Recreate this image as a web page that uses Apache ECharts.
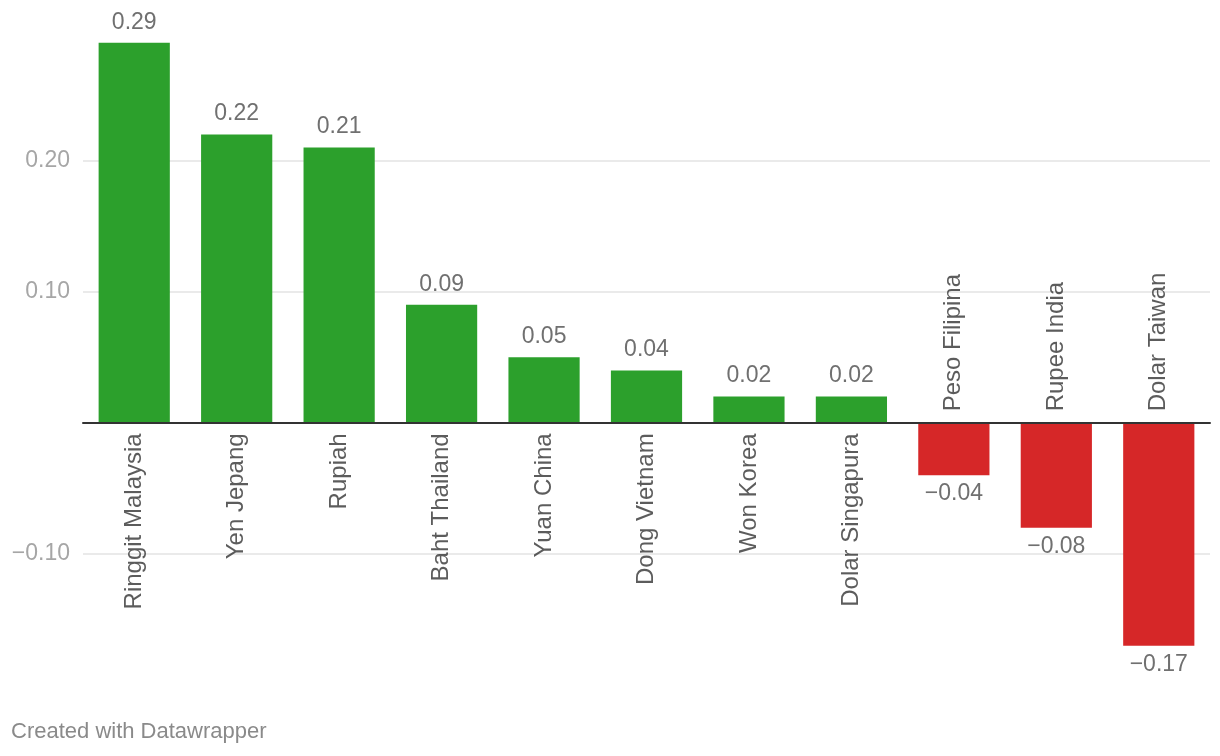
<!DOCTYPE html>
<html>
<head>
<meta charset="utf-8">
<script src="https://cdn.jsdelivr.net/npm/echarts@6/dist/echarts.min.js"></script>
<style>
html,body{margin:0;padding:0;background:#fff;}
#chart{width:1220px;height:756px;}
</style>
</head>
<body>
<div id="chart"></div>
<script>
const categories = ['Ringgit Malaysia','Yen Jepang','Rupiah','Baht Thailand','Yuan China','Dong Vietnam','Won Korea','Dolar Singapura','Peso Filipina','Rupee India','Dolar Taiwan'];
const values = [0.29, 0.22, 0.21, 0.09, 0.05, 0.04, 0.02, 0.02, -0.04, -0.08, -0.17];
const yTickValues = [-0.1, 0.1, 0.2];
const footer = 'Created with Datawrapper';

const FONT = '"Liberation Sans", Arial, Helvetica, sans-serif';
const GREEN = '#2ca02c', RED = '#d62728';
const fmt = v => v.toFixed(2).replace('-', '\u2212');

const barData = values.map(v => ({
  value: v,
  itemStyle: { color: v >= 0 ? GREEN : RED },
  label: { position: v >= 0 ? 'top' : 'bottom', distance: v >= 0 ? 9 : 7 }
}));

// category name labels anchored at the zero line
const nameData = categories.map((c, i) => ({
  value: [i, 0],
  name: c,
  label: values[i] >= 0
    ? { position: 'bottom', distance: 10, align: 'right' }
    : { position: 'top', distance: 11, align: 'left' }
}));

const chart = echarts.init(document.getElementById('chart'), null, { renderer: 'canvas' });
chart.setOption({
  animation: false,
  grid: { left: 83, right: 10, top: 29.6, bottom: 71, containLabel: false, outerBoundsMode: 'none' },
  xAxis: {
    type: 'category', data: categories,
    axisLine: { show: true, onZero: true, lineStyle: { color: '#333', width: 2 } },
    axisTick: { show: false },
    axisLabel: { show: false },
    z: 5
  },
  yAxis: {
    type: 'value', min: -0.2, max: 0.3, interval: 0.1,
    axisLine: { show: false }, axisTick: { show: false },
    splitLine: { show: true, showMinLine: false, showMaxLine: false, lineStyle: { color: '#e3e3e3', width: 1.5 } },
    axisLabel: {
      margin: 13, color: '#a6a6a6', fontSize: 23, fontFamily: FONT,
      formatter: v => yTickValues.some(t => Math.abs(t - v) < 1e-9) ? fmt(v) : ''
    }
  },
  series: [{
    type: 'bar',
    data: barData,
    barCategoryGap: '30.5%',
    label: { show: true, color: '#707070', fontSize: 23, fontFamily: FONT, formatter: p => fmt(p.value) },
    z: 2
  }, {
    type: 'scatter',
    data: nameData,
    symbolSize: 1,
    itemStyle: { color: 'rgba(0,0,0,0)' },
    silent: true,
    label: {
      show: true, rotate: 90, verticalAlign: 'middle',
      color: '#333', fontSize: 24, fontFamily: FONT,
      formatter: p => p.name
    },
    z: 6
  }],
  graphic: [{
    type: 'text', left: 11, top: 721,
    style: { text: footer, fill: '#8a8a8a', font: '22px ' + FONT }
  }]
});
</script>
</body>
</html>
